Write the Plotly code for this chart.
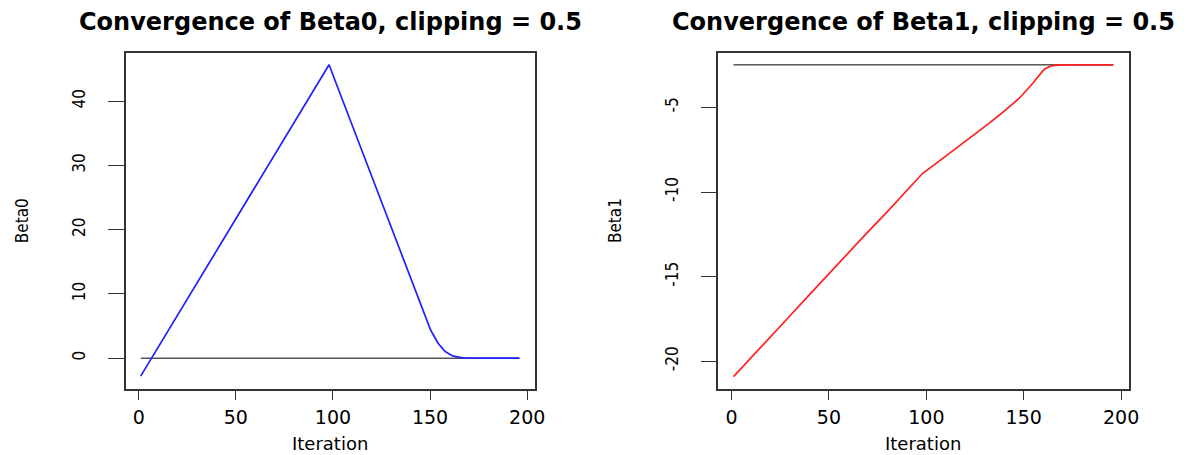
import plotly.graph_objects as go

# Gradient-descent trace of the two coefficients (iteration, value)
iter_beta0 = [1, 10, 20, 30, 40, 50, 60, 70, 80, 90, 98,
              100, 110, 120, 130, 140, 146, 147, 148, 149, 150, 151, 152, 153,
              154, 155, 156, 157, 158, 159, 160, 161, 162, 163, 164, 165,
              166, 168, 170, 173, 180, 196]
beta0 = [-2.8, 1.7, 6.7, 11.7, 16.7, 21.7, 26.7, 31.7, 36.7, 41.7, 45.7,
         44.1, 36.2, 28.3, 20.4, 12.5, 7.6, 6.8, 6.0, 5.3, 4.6, 4.0, 3.4, 2.9,
         2.4, 2.0, 1.6, 1.3, 1.0, 0.78, 0.6, 0.45, 0.33, 0.24, 0.17, 0.12,
         0.08, 0.04, 0.02, 0.01, 0.0, 0.0]

iter_beta1 = [1, 10, 20, 30, 40, 50, 60, 70, 80, 90, 98,
              105, 112, 119, 126, 132, 138, 143, 145, 147, 149, 151, 153,
              154, 155, 156, 157, 158, 159, 160, 161, 162, 163, 164, 165,
              166, 168, 172, 196]
beta1 = [-20.9, -19.8, -18.55, -17.3, -16.05, -14.8, -13.6, -12.35, -11.15, -9.9, -8.9,
         -8.3, -7.7, -7.1, -6.5, -5.95, -5.4, -4.94, -4.73, -4.52, -4.29, -4.05, -3.8,
         -3.66, -3.52, -3.37, -3.22, -3.07, -2.93, -2.81, -2.71, -2.64, -2.58, -2.54, -2.52,
         -2.5, -2.49, -2.48, -2.48]

# True coefficient values drawn as reference lines
true_iter = [1, 196]
true_beta0 = [0.0, 0.0]
true_beta1 = [-2.48, -2.48]

# Axis ticks
x_ticks = [0, 50, 100, 150, 200]
beta0_ticks = [0, 10, 20, 30, 40]
beta0_tick_text = ["0", "10", "20", "30", "40"]
beta1_ticks = [-20, -15, -10, -5]
beta1_tick_text = ["-20", "-15", "-10", "-5"]

titles = ["Convergence of Beta0, clipping = 0.5", "Convergence of Beta1, clipping = 0.5"]
y_titles = ["Beta0", "Beta1"]

W, H = 1197, 455
FRAME = "#333333"
WIDE = "DejaVu Sans, Verdana, sans-serif"
NARROW = "Liberation Sans Narrow, DejaVu Sans Condensed, Arial Narrow, Liberation Sans, sans-serif"

fig = go.Figure()

# Left panel
fig.add_trace(go.Scatter(x=true_iter, y=true_beta0, mode="lines",
                         line=dict(color="black", width=1), xaxis="x", yaxis="y",
                         showlegend=False, hoverinfo="skip"))
fig.add_trace(go.Scatter(x=iter_beta0, y=beta0, mode="lines",
                         line=dict(color="#2020ff", width=1.7),
                         xaxis="x", yaxis="y", showlegend=False, name="Beta0"))
# Right panel
fig.add_trace(go.Scatter(x=true_iter, y=true_beta1, mode="lines",
                         line=dict(color="black", width=1), xaxis="x2", yaxis="y2",
                         showlegend=False, hoverinfo="skip"))
fig.add_trace(go.Scatter(x=iter_beta1, y=beta1, mode="lines",
                         line=dict(color="#ff2020", width=1.7),
                         xaxis="x2", yaxis="y2", showlegend=False, name="Beta1"))

# Plot regions in pixels: (left, right), shared (top, bottom)
panels_x = [(126.7, 539.5), (725.0, 1139.0)]
top_px, bottom_px = 52.5, 389.0
y_dom = [1 - bottom_px / H, 1 - top_px / H]

common_x = dict(range=[-6.8, 203.8], tickvals=x_ticks, ticks="outside", ticklen=9,
                tickwidth=1, tickcolor=FRAME, showline=True, mirror=True,
                linecolor=FRAME, linewidth=1.5, showgrid=False, zeroline=False,
                tickfont=dict(family=WIDE, size=19, color="black"),
                ticklabelstandoff=1)
common_y = dict(ticks="outside", ticklen=16, tickwidth=1, tickcolor=FRAME,
                showline=True, mirror=True, linecolor=FRAME, linewidth=1.5,
                showgrid=False, zeroline=False, tickangle=-90,
                tickfont=dict(family=NARROW, size=17, color="black"),
                ticklabelstandoff=16)

fig.update_layout(
    width=W, height=H,
    margin=dict(l=0, r=0, t=0, b=0),
    paper_bgcolor="white", plot_bgcolor="white",
    xaxis=dict(domain=[panels_x[0][0] / W, panels_x[0][1] / W], anchor="y", **common_x),
    yaxis=dict(domain=y_dom, anchor="x", range=[-4.8, 47.6],
               tickvals=beta0_ticks, ticktext=beta0_tick_text, **common_y),
    xaxis2=dict(domain=[panels_x[1][0] / W, panels_x[1][1] / W], anchor="y2", **common_x),
    yaxis2=dict(domain=y_dom, anchor="x2", range=[-21.63, -1.75],
                tickvals=beta1_ticks, ticktext=beta1_tick_text, **common_y),
)

# Panel titles, axis titles
for i, (x0, x1) in enumerate(panels_x):
    cx = (x0 + x1) / 2 / W
    fig.add_annotation(text=titles[i], x=cx, y=1 - 22 / H, xref="paper", yref="paper",
                       xanchor="center", yanchor="middle", showarrow=False,
                       font=dict(family=WIDE, size=24, color="black", weight="bold"))
    fig.add_annotation(text="Iteration", x=cx, y=1 - 443 / H, xref="paper", yref="paper",
                       xanchor="center", yanchor="middle", showarrow=False,
                       font=dict(family=WIDE, size=18, color="black"))
    fig.add_annotation(text=y_titles[i], x=(x0 - 105) / W, y=(y_dom[0] + y_dom[1]) / 2,
                       xref="paper", yref="paper", xanchor="center", yanchor="middle",
                       textangle=-90, showarrow=False,
                       font=dict(family=NARROW, size=17, color="black"))

fig.write_html("out.html")
